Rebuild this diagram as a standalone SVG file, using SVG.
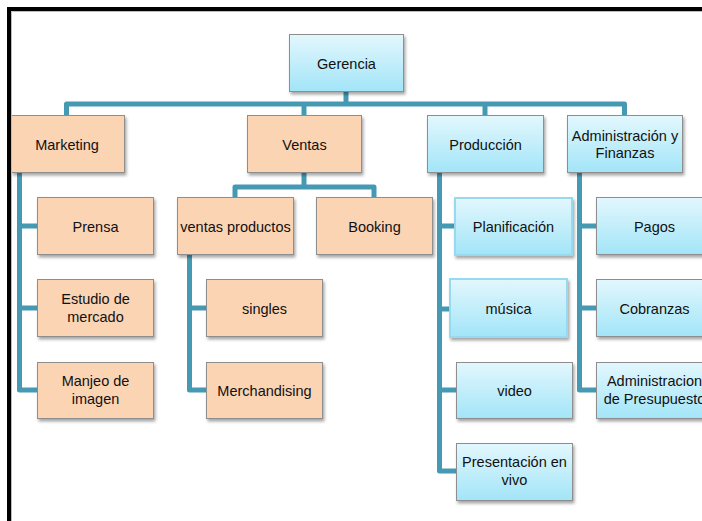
<svg xmlns="http://www.w3.org/2000/svg" width="702" height="521" viewBox="0 0 702 521">
  <defs>
    <linearGradient id="blueFill" x1="0" y1="0" x2="0" y2="1">
      <stop offset="0" stop-color="#E3F7FD"/>
      <stop offset="1" stop-color="#A2E5F8"/>
    </linearGradient>
    <filter id="shadow" x="-10%" y="-10%" width="125%" height="135%">
      <feDropShadow dx="1.5" dy="2.5" stdDeviation="1.6" flood-color="#000" flood-opacity="0.35"/>
    </filter>
    <style>
      .conn { fill: none; stroke: #4699B3; stroke-width: 5; stroke-linejoin: round; stroke-linecap: butt; }
      .peach { fill: #FBD4B4; stroke: #8E8E8E; stroke-width: 1; filter: url(#shadow); }
      .blue { fill: url(#blueFill); stroke: #8E8E8E; stroke-width: 1; filter: url(#shadow); }
      .blue.hl { stroke: #97D9EE; stroke-width: 2; }
      text { font-family: "Liberation Sans", Arial, sans-serif; font-size: 14.5px; fill: #111; text-anchor: middle; }
    </style>
  </defs>

  <rect width="702" height="521" fill="#FFFFFF"/>

  <!-- connectors -->
  <g id="connectors">
    <path class="conn" d="M66.5 116 V104 H624.5 V116"/>
    <path class="conn" d="M346 92 V104"/>
    <path class="conn" d="M304 104 V116"/>
    <path class="conn" d="M485 104 V116"/>
    <!-- Marketing -->
    <path class="conn" d="M19.5 173 V390 H38"/>
    <path class="conn" d="M19.5 226 H38"/>
    <path class="conn" d="M19.5 308 H38"/>
    <!-- Ventas -->
    <path class="conn" d="M304 173 V187"/>
    <path class="conn" d="M235 198 V187 H374 V198"/>
    <path class="conn" d="M189.5 255 V390 H207"/>
    <path class="conn" d="M189.5 308 H207"/>
    <!-- Producción -->
    <path class="conn" d="M439.5 173 V471 H457"/>
    <path class="conn" d="M439.5 226 H455"/>
    <path class="conn" d="M439.5 309 H450"/>
    <path class="conn" d="M439.5 390 H457"/>
    <!-- Administración -->
    <path class="conn" d="M579.5 173 V390 H597"/>
    <path class="conn" d="M579.5 226 H597"/>
    <path class="conn" d="M579.5 308 H597"/>
  </g>

  <g id="gerencia"><rect class="blue" x="289.5" y="34.5" width="114" height="57"/><text x="346.5" y="68.5">Gerencia</text></g>

  <g id="marketing"><rect class="peach" x="11.5" y="115.5" width="113" height="57"/><text x="67" y="150">Marketing</text></g>
  <g id="ventas"><rect class="peach" x="247.5" y="115.5" width="114" height="57"/><text x="304.5" y="150">Ventas</text></g>
  <g id="produccion"><rect class="blue" x="427.5" y="115.5" width="116" height="57"/><text x="485.5" y="150">Producción</text></g>
  <g id="administracion"><rect class="blue" x="567.5" y="115.5" width="115" height="57"/><text x="625" y="140.5">Administración y</text><text x="625" y="158">Finanzas</text></g>

  <g id="prensa"><rect class="peach" x="37.5" y="197.5" width="116" height="57"/><text x="95.5" y="231.5">Prensa</text></g>
  <g id="ventas-productos"><rect class="peach" x="177.5" y="197.5" width="116" height="57"/><text x="235.5" y="231.5">ventas productos</text></g>
  <g id="booking"><rect class="peach" x="316.5" y="197.5" width="116" height="57"/><text x="374.5" y="231.5">Booking</text></g>
  <g id="planificacion"><rect class="blue hl" x="455" y="198" width="117" height="57"/><text x="513.5" y="231.5">Planificación</text></g>
  <g id="pagos"><rect class="blue" x="596.5" y="197.5" width="116" height="57"/><text x="654.5" y="231.5">Pagos</text></g>

  <g id="estudio"><rect class="peach" x="37.5" y="279.5" width="116" height="57"/><text x="95.5" y="304">Estudio de</text><text x="95.5" y="322">mercado</text></g>
  <g id="singles"><rect class="peach" x="206.5" y="279.5" width="116" height="57"/><text x="264.5" y="313.5">singles</text></g>
  <g id="musica"><rect class="blue hl" x="450" y="279" width="117" height="58"/><text x="508.5" y="313.5">música</text></g>
  <g id="cobranzas"><rect class="blue" x="596.5" y="279.5" width="116" height="57"/><text x="654.5" y="313.5">Cobranzas</text></g>

  <g id="manejo"><rect class="peach" x="37.5" y="362.5" width="116" height="56"/><text x="95.5" y="386">Manjeo de</text><text x="95.5" y="404">imagen</text></g>
  <g id="merchandising"><rect class="peach" x="206.5" y="362.5" width="116" height="56"/><text x="264.5" y="396">Merchandising</text></g>
  <g id="video"><rect class="blue" x="456.5" y="362.5" width="116" height="56"/><text x="514.5" y="396">video</text></g>
  <g id="presupuesto"><rect class="blue" x="596.5" y="362.5" width="116" height="56"/><text x="654.5" y="386">Administracion</text><text x="654.5" y="404">de Presupuesto</text></g>

  <g id="presentacion"><rect class="blue" x="456.5" y="443.5" width="116" height="57"/><text x="514.5" y="467">Presentación en</text><text x="514.5" y="485">vivo</text></g>

  <!-- page frame -->
  <g id="frame">
    <path d="M11.5 521 V11.5 H702" fill="none" stroke="#BDBDBD" stroke-width="1"/>
    <path d="M9 521 V9 H702" fill="none" stroke="#000" stroke-width="4"/>
  </g>
</svg>
